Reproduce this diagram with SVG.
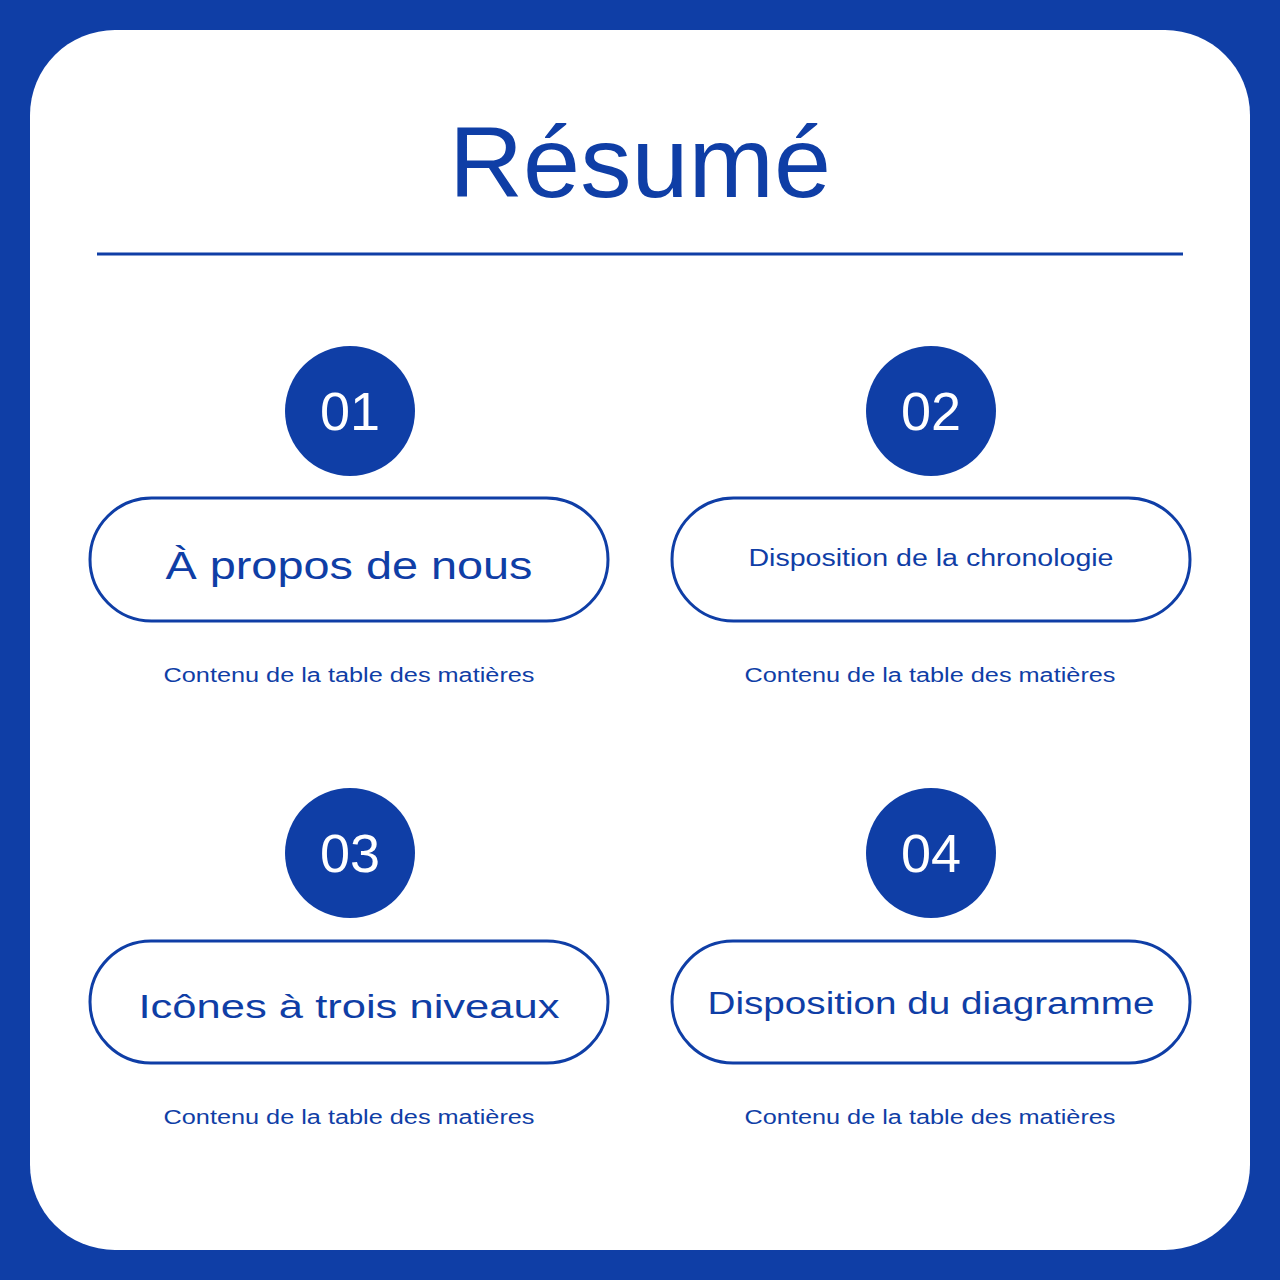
<svg xmlns="http://www.w3.org/2000/svg" width="1280" height="1280" viewBox="0 0 1280 1280">
<style>
.t{font-family:"Liberation Sans",Arial,sans-serif;fill:#0F3EA6;text-anchor:middle}
.pill{fill:#fff;stroke:#0F3EA6;stroke-width:3}
.num{font-family:"Liberation Sans",Arial,sans-serif;fill:#fff;text-anchor:middle;font-size:54px}
.sub{font-size:20px}
</style>
<rect width="1280" height="1280" fill="#0F3EA6"/>
<rect x="30" y="30" width="1220" height="1220" rx="85" fill="#fff"/>
<text class="t" x="640" y="197" font-size="100" textLength="382" lengthAdjust="spacingAndGlyphs">Résumé</text>
<line x1="97" y1="254" x2="1183" y2="254" stroke="#0F3EA6" stroke-width="3"/>
<g id="n1">
<circle cx="350" cy="411" r="65" fill="#0F3EA6"/><text class="num" x="350" y="430">01</text>
<rect class="pill" x="90" y="498" width="518" height="123" rx="61.5"/>
<text class="t" x="349" y="579" font-size="38" textLength="367" lengthAdjust="spacingAndGlyphs">À propos de nous</text>
<text class="t sub" x="349" y="682" textLength="371" lengthAdjust="spacingAndGlyphs">Contenu de la table des matières</text>
</g>
<g id="n2">
<circle cx="931" cy="411" r="65" fill="#0F3EA6"/><text class="num" x="931" y="430">02</text>
<rect class="pill" x="672" y="498" width="518" height="123" rx="61.5"/>
<text class="t" x="931" y="566" font-size="23" textLength="365" lengthAdjust="spacingAndGlyphs">Disposition de la chronologie</text>
<text class="t sub" x="930" y="682" textLength="371" lengthAdjust="spacingAndGlyphs">Contenu de la table des matières</text>
</g>
<g id="n3">
<circle cx="350" cy="853" r="65" fill="#0F3EA6"/><text class="num" x="350" y="872">03</text>
<rect class="pill" x="90" y="941" width="518" height="122" rx="61"/>
<text class="t" x="349" y="1018" font-size="34" textLength="421" lengthAdjust="spacingAndGlyphs">Icônes à trois niveaux</text>
<text class="t sub" x="349" y="1124" textLength="371" lengthAdjust="spacingAndGlyphs">Contenu de la table des matières</text>
</g>
<g id="n4">
<circle cx="931" cy="853" r="65" fill="#0F3EA6"/><text class="num" x="931" y="872">04</text>
<rect class="pill" x="672" y="941" width="518" height="122" rx="61"/>
<text class="t" x="931" y="1014" font-size="31" textLength="447" lengthAdjust="spacingAndGlyphs">Disposition du diagramme</text>
<text class="t sub" x="930" y="1124" textLength="371" lengthAdjust="spacingAndGlyphs">Contenu de la table des matières</text>
</g>
<g id="connectors"/>
</svg>
